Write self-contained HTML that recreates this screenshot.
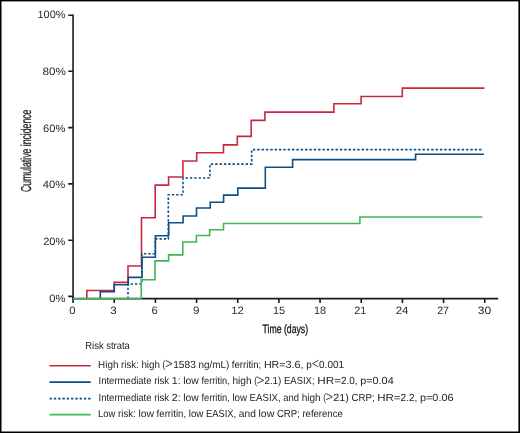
<!DOCTYPE html>
<html><head><meta charset="utf-8">
<style>
html,body{margin:0;padding:0;background:#fff;}
svg{display:block;will-change:transform;}
text{font-family:"Liberation Sans",sans-serif;text-rendering:geometricPrecision;}
</style></head>
<body>
<svg width="520" height="433" viewBox="0 0 520 433">
<rect x="0" y="0" width="520" height="433" fill="#fff"/>
<!-- border -->
<rect x="0" y="0" width="1.5" height="433" fill="#000"/>
<rect x="0" y="0" width="520" height="1.4" fill="#000"/>
<rect x="518.4" y="0" width="1.6" height="433" fill="#000"/>
<rect x="0" y="431.5" width="520" height="1.5" fill="#000"/>

<!-- axes -->
<g stroke="#1a1a1a" stroke-width="1.6" fill="none">
<path d="M73.05 14.45V302.9"/>
<path d="M72.3 298.65H498.2"/>
<path d="M68.2 15.25H73M68.2 71.3H73M68.2 127.6H73M68.2 183.9H73M68.2 240.2H73M68.2 296.4H73"/>
<path d="M114.22 298.6V302.9M155.39 298.6V302.9M196.56 298.6V302.9M237.73 298.6V302.9M278.9 298.6V302.9M320.07 298.6V302.9M361.24 298.6V302.9M402.41 298.6V302.9M443.58 298.6V302.9M484.75 298.6V302.9"/>
</g>

<!-- y tick labels -->
<g font-size="10.6" fill="#2b2b2b" text-anchor="end">
<text x="65.5" y="18.2" textLength="28" lengthAdjust="spacingAndGlyphs">100%</text>
<text x="66.0" y="74.8" textLength="23.5" lengthAdjust="spacingAndGlyphs">80%</text>
<text x="65.3" y="131.5" textLength="22.3" lengthAdjust="spacingAndGlyphs">60%</text>
<text x="65.3" y="187.9" textLength="22.5" lengthAdjust="spacingAndGlyphs">40%</text>
<text x="65.4" y="244.9" textLength="22.2" lengthAdjust="spacingAndGlyphs">20%</text>
<text x="65.6" y="301.5" textLength="16.3" lengthAdjust="spacingAndGlyphs">0%</text>
</g>
<!-- x tick labels -->
<g font-size="10.7" fill="#2b2b2b" text-anchor="middle">
<text x="72.4" y="313.9" textLength="6.3" lengthAdjust="spacingAndGlyphs">0</text>
<text x="113.5" y="313.9" textLength="6.4" lengthAdjust="spacingAndGlyphs">3</text>
<text x="154.7" y="313.9" textLength="6.3" lengthAdjust="spacingAndGlyphs">6</text>
<text x="196.35" y="313.9" textLength="6.5" lengthAdjust="spacingAndGlyphs">9</text>
<text x="237.5" y="313.9" textLength="12.6" lengthAdjust="spacingAndGlyphs">12</text>
<text x="278.95" y="313.9" textLength="12.1" lengthAdjust="spacingAndGlyphs">15</text>
<text x="320.0" y="313.9" textLength="12.2" lengthAdjust="spacingAndGlyphs">18</text>
<text x="360.3" y="313.9" textLength="12.0" lengthAdjust="spacingAndGlyphs">21</text>
<text x="402.1" y="313.9" textLength="12.8" lengthAdjust="spacingAndGlyphs">24</text>
<text x="443.1" y="313.9" textLength="11.9" lengthAdjust="spacingAndGlyphs">27</text>
<text x="484.4" y="313.9" textLength="13.4" lengthAdjust="spacingAndGlyphs">30</text>
</g>

<!-- axis titles -->
<text x="262.5" y="332.9" font-size="12" fill="#1a1a1a" stroke="#1a1a1a" stroke-width="0.35" textLength="45.6" lengthAdjust="spacingAndGlyphs">Time (days)</text>
<text transform="translate(31.0 192) rotate(-90)" x="0" y="0" font-size="14.4" fill="#1a1a1a" stroke="#1a1a1a" stroke-width="0.25" textLength="82.4" lengthAdjust="spacingAndGlyphs">Cumulative incidence</text>

<!-- data -->
<g fill="none" stroke-width="1.6" stroke-linejoin="miter">
<path stroke="#c8283f" d="M86.8 298.8V290.5H114.2V282.4H128V266H141.5V217.8H155.2V185.1H168.6V177H182.9V161H196.7V152.8H223.5V144.9H237.3V136.4H251.2V120.4H264.9V112.1H333.9V103.8H361.1V96.5H402.3V88.1H484.5"/>
<path stroke="#0e4f88" stroke-dasharray="2.4 1.95" d="M128 298.8V284H141.8V253.8H155.2V238.9H168.3V194.7H183V178H209.9V164.1H251.7V149.6H483.5"/>
<path stroke="#0e4f88" d="M100.3 298.8V291.7H114.3V284.7H128.3V277.4H142V257.3H155.4V235.8H168.7V222.7H183.1V216H196.5V208H210.2V202.2H223.6V195.1H237.8V188.1H265.3V167.2H292.6V159.6H415.6V154.2H484"/>
<path stroke="#40b753" d="M73.05 298.8H141.2V279.8H155V260.9H168.6V254.9H182.8V242H196.4V235.5H209.6V229.7H223.5V223.5H359.9V217H482.5"/>
</g>

<!-- legend -->
<text x="85.3" y="348.8" font-size="10.3" fill="#1e1e1e" textLength="44.5" lengthAdjust="spacingAndGlyphs">Risk strata</text>
<g stroke-width="1.6" fill="none">
<path stroke="#c8283f" d="M49.5 365.8H90.8"/>
<path stroke="#0e4f88" d="M49.5 382.1H90.8"/>
<path stroke="#0e4f88" stroke-dasharray="2.4 1.9" d="M49.5 398.6H91"/>
<path stroke="#40b753" d="M49.5 414.6H90.8"/>
</g>
<g font-size="10.3" fill="#1e1e1e">
<text x="98.1" y="367.5" textLength="20.3" lengthAdjust="spacingAndGlyphs">High</text>
<text x="121.0" y="367.5" textLength="17.8" lengthAdjust="spacingAndGlyphs">risk:</text>
<text x="141.4" y="367.5" textLength="18.6" lengthAdjust="spacingAndGlyphs">high</text>
<text x="162.6" y="367.5" textLength="2.8" lengthAdjust="spacingAndGlyphs">(</text>
<text x="173.2" y="367.5" textLength="22.6" lengthAdjust="spacingAndGlyphs">1583</text>
<text x="198.4" y="367.5" textLength="30.8" lengthAdjust="spacingAndGlyphs">ng/mL)</text>
<text x="231.8" y="367.5" textLength="29.5" lengthAdjust="spacingAndGlyphs">ferritin;</text>
<text x="263.9" y="367.5" textLength="21.6" lengthAdjust="spacingAndGlyphs">HR=</text>
<text x="285.5" y="367.5" textLength="18.1" lengthAdjust="spacingAndGlyphs">3.6,</text>
<text x="306.2" y="367.5" textLength="5.5" lengthAdjust="spacingAndGlyphs">p</text>
<text x="319.1" y="367.5" textLength="24.9" lengthAdjust="spacingAndGlyphs">0.001</text>
<text x="98.5" y="384.1" textLength="53.1" lengthAdjust="spacingAndGlyphs">Intermediate</text>
<text x="154.2" y="384.1" textLength="15.0" lengthAdjust="spacingAndGlyphs">risk</text>
<text x="171.8" y="384.1" textLength="8.8" lengthAdjust="spacingAndGlyphs">1:</text>
<text x="183.2" y="384.1" textLength="15.6" lengthAdjust="spacingAndGlyphs">low</text>
<text x="201.4" y="384.1" textLength="28.4" lengthAdjust="spacingAndGlyphs">ferritin,</text>
<text x="232.4" y="384.1" textLength="19.2" lengthAdjust="spacingAndGlyphs">high</text>
<text x="254.2" y="384.1" textLength="2.9" lengthAdjust="spacingAndGlyphs">(</text>
<text x="264.4" y="384.1" textLength="17.0" lengthAdjust="spacingAndGlyphs">2.1)</text>
<text x="284.0" y="384.1" textLength="30.6" lengthAdjust="spacingAndGlyphs">EASIX;</text>
<text x="317.2" y="384.1" textLength="23.8" lengthAdjust="spacingAndGlyphs">HR=</text>
<text x="341.0" y="384.1" textLength="16.6" lengthAdjust="spacingAndGlyphs">2.0,</text>
<text x="360.2" y="384.1" textLength="33.5" lengthAdjust="spacingAndGlyphs">p=0.04</text>
<text x="98.5" y="400.6" textLength="53.1" lengthAdjust="spacingAndGlyphs">Intermediate</text>
<text x="154.2" y="400.6" textLength="15.0" lengthAdjust="spacingAndGlyphs">risk</text>
<text x="171.8" y="400.6" textLength="8.8" lengthAdjust="spacingAndGlyphs">2:</text>
<text x="183.2" y="400.6" textLength="15.6" lengthAdjust="spacingAndGlyphs">low</text>
<text x="201.4" y="400.6" textLength="28.4" lengthAdjust="spacingAndGlyphs">ferritin,</text>
<text x="232.4" y="400.6" textLength="14.6" lengthAdjust="spacingAndGlyphs">low</text>
<text x="249.6" y="400.6" textLength="31.1" lengthAdjust="spacingAndGlyphs">EASIX,</text>
<text x="283.3" y="400.6" textLength="15.8" lengthAdjust="spacingAndGlyphs">and</text>
<text x="301.7" y="400.6" textLength="18.9" lengthAdjust="spacingAndGlyphs">high</text>
<text x="323.2" y="400.6" textLength="2.8" lengthAdjust="spacingAndGlyphs">(</text>
<text x="333.2" y="400.6" textLength="15.6" lengthAdjust="spacingAndGlyphs">21)</text>
<text x="351.4" y="400.6" textLength="23.2" lengthAdjust="spacingAndGlyphs">CRP;</text>
<text x="377.2" y="400.6" textLength="23.4" lengthAdjust="spacingAndGlyphs">HR=</text>
<text x="400.6" y="400.6" textLength="16.8" lengthAdjust="spacingAndGlyphs">2.2,</text>
<text x="420.0" y="400.6" textLength="33.5" lengthAdjust="spacingAndGlyphs">p=0.06</text>
<text x="98.1" y="417.4" textLength="17.3" lengthAdjust="spacingAndGlyphs">Low</text>
<text x="118.0" y="417.4" textLength="17.8" lengthAdjust="spacingAndGlyphs">risk:</text>
<text x="138.4" y="417.4" textLength="15.6" lengthAdjust="spacingAndGlyphs">low</text>
<text x="156.6" y="417.4" textLength="29.5" lengthAdjust="spacingAndGlyphs">ferritin,</text>
<text x="188.7" y="417.4" textLength="14.8" lengthAdjust="spacingAndGlyphs">low</text>
<text x="206.1" y="417.4" textLength="30.1" lengthAdjust="spacingAndGlyphs">EASIX,</text>
<text x="238.8" y="417.4" textLength="17.0" lengthAdjust="spacingAndGlyphs">and</text>
<text x="258.4" y="417.4" textLength="15.9" lengthAdjust="spacingAndGlyphs">low</text>
<text x="276.9" y="417.4" textLength="22.9" lengthAdjust="spacingAndGlyphs">CRP;</text>
<text x="302.4" y="417.4" textLength="40.4" lengthAdjust="spacingAndGlyphs">reference</text>
<path fill="none" stroke="#1e1e1e" stroke-width="0.85" stroke-linejoin="miter" d="M165.70 360.40L172.00 363.65L165.70 366.75M318.40 360.40L312.60 363.65L318.40 366.75M257.20 377.00L263.60 380.25L257.20 383.35M326.00 393.50L332.40 396.75L326.00 399.85"/>
</g>
</svg>
</body></html>
